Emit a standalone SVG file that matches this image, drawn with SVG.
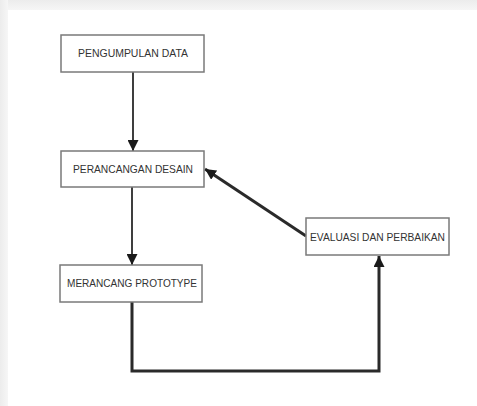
<svg xmlns="http://www.w3.org/2000/svg" width="477" height="406" viewBox="0 0 477 406">
<defs>
<style>
.box{fill:#fff;stroke:#7a7a7a;stroke-width:1.5}
.lbl{font-family:"Liberation Sans",Arial,sans-serif;font-size:10.5px;fill:#333;text-anchor:middle}
.conn{fill:none;stroke:#2a2a2a;stroke-width:1.8}
.thick{stroke-width:3}
</style>
<marker id="ah" viewBox="0 0 10 10" refX="10" refY="5" markerWidth="5" markerHeight="5" markerUnits="userSpaceOnUse" orient="auto">
<path d="M0,0 L10,5 L0,10 z" fill="#1a1a1a"/>
</marker>
<marker id="ahb" viewBox="0 0 10 10" refX="10" refY="5" markerWidth="11" markerHeight="11" markerUnits="userSpaceOnUse" orient="auto">
<path d="M0,0 L10,5 L0,10 z" fill="#1a1a1a"/>
</marker>
<linearGradient id="gt" x1="0" y1="0" x2="0" y2="1"><stop offset="0" stop-color="#ececec"/><stop offset="1" stop-color="#f6f6f6"/></linearGradient>
<linearGradient id="gl" x1="0" y1="0" x2="1" y2="0"><stop offset="0" stop-color="#ececec"/><stop offset="1" stop-color="#f6f6f6"/></linearGradient>
</defs>
<rect width="477" height="406" fill="#fff"/>
<rect x="0" y="0" width="477" height="10" fill="url(#gt)"/>
<rect x="0" y="0" width="8" height="406" fill="url(#gl)"/>
<g id="connectors">
<line class="conn" x1="133" y1="72" x2="133" y2="151" marker-end="url(#ahb)"/>
<line class="conn" x1="132" y1="187" x2="132" y2="265" marker-end="url(#ahb)"/>
<line class="conn thick" x1="306" y1="236" x2="205" y2="169" marker-end="url(#ahb)"/>
<polyline class="conn thick" points="132,302 132,371 379,371 379,256" marker-end="url(#ahb)"/>
</g>
<g id="node-pengumpulan">
<rect class="box" x="61" y="35" width="143" height="37"/>
<text class="lbl" x="133" y="57" textLength="110" lengthAdjust="spacingAndGlyphs">PENGUMPULAN DATA</text>
</g>
<g id="node-perancangan">
<rect class="box" x="61" y="151" width="143" height="36"/>
<text class="lbl" x="133" y="173" textLength="120" lengthAdjust="spacingAndGlyphs">PERANCANGAN DESAIN</text>
</g>
<g id="node-merancang">
<rect class="box" x="60" y="265" width="142" height="37"/>
<text class="lbl" x="132" y="287" textLength="130" lengthAdjust="spacingAndGlyphs">MERANCANG PROTOTYPE</text>
</g>
<g id="node-evaluasi">
<rect class="box" x="306" y="218" width="143" height="37"/>
<text class="lbl" x="377.5" y="241" textLength="135" lengthAdjust="spacingAndGlyphs">EVALUASI DAN PERBAIKAN</text>
</g>
</svg>
